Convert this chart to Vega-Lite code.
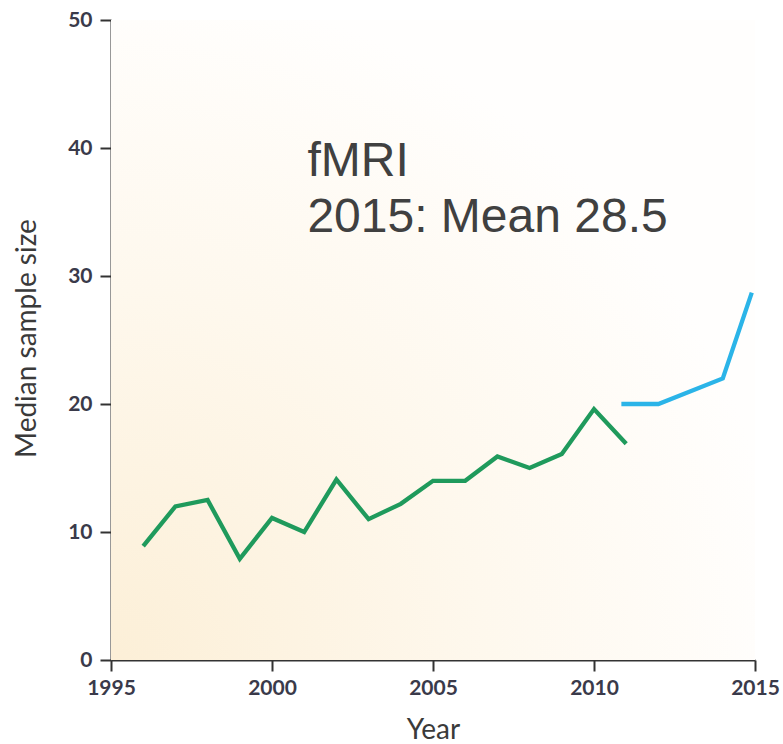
{
  "$schema": "https://vega.github.io/schema/vega-lite/v6.json",
  "width": 644,
  "height": 640,
  "autosize": {"type": "none"},
  "padding": {"left": 111, "top": 20, "right": 28, "bottom": 84},
  "background": "white",
  "config": {"view": {"stroke": null}},
  "datasets": {
    "bg": [{"x0": 1995, "x1": 2015, "y0": 0, "y1": 50}],
    "series": [
      {"year": 1996, "value": 8.9, "group": "before"},
      {"year": 1997, "value": 12.0, "group": "before"},
      {"year": 1998, "value": 12.5, "group": "before"},
      {"year": 1999, "value": 7.9, "group": "before"},
      {"year": 2000, "value": 11.1, "group": "before"},
      {"year": 2001, "value": 10.0, "group": "before"},
      {"year": 2002, "value": 14.1, "group": "before"},
      {"year": 2003, "value": 11.0, "group": "before"},
      {"year": 2004, "value": 12.2, "group": "before"},
      {"year": 2005, "value": 14.0, "group": "before"},
      {"year": 2006, "value": 14.0, "group": "before"},
      {"year": 2007, "value": 15.9, "group": "before"},
      {"year": 2008, "value": 15.0, "group": "before"},
      {"year": 2009, "value": 16.1, "group": "before"},
      {"year": 2010, "value": 19.6, "group": "before"},
      {"year": 2011, "value": 16.9, "group": "before"},
      {"year": 2010.85, "value": 20.0, "group": "after"},
      {"year": 2012, "value": 20.0, "group": "after"},
      {"year": 2014, "value": 22.0, "group": "after"},
      {"year": 2014.9, "value": 28.7, "group": "after"}
    ],
    "note": [{"x": 2001.1, "y": 37.8, "label": "fMRI\n2015: Mean 28.5"}]
  },
  "layer": [
    {
      "data": {"name": "bg"},
      "mark": {
        "type": "rect",
        "fill": {
          "gradient": "radial",
          "x1": 0, "y1": 1, "x2": 0, "y2": 1, "r1": 0, "r2": 1.05,
          "stops": [
            {"offset": 0, "color": "#fcefd7"},
            {"offset": 0.55, "color": "#fef8ed"},
            {"offset": 1, "color": "#fffefd"}
          ]
        }
      },
      "encoding": {
        "x": {"field": "x0", "type": "quantitative", "scale": {"domain": [1995, 2015], "nice": false, "zero": false},
          "axis": {"values": [1995, 2000, 2005, 2010, 2015], "format": "d", "title": "Year", "grid": false,
            "domainColor": "#333333", "domainWidth": 2, "tickColor": "#333333", "tickWidth": 2, "tickSize": 11,
            "labelFont": "Lato", "labelFontWeight": "bold", "labelFontSize": 21, "labelColor": "#3a3a4a", "labelPadding": 6,
            "labelFlush": false, "labelOverlap": false,
            "titleFont": "Lato", "titleFontWeight": "normal", "titleFontSize": 28, "titleColor": "#3a3a3a",
            "titleY": 78, "titleBaseline": "alphabetic"}},
        "x2": {"field": "x1"},
        "y": {"field": "y0", "type": "quantitative", "scale": {"domain": [0, 50], "nice": false},
          "axis": {"values": [0, 10, 20, 30, 40, 50], "title": "Median sample size", "grid": false,
            "domainColor": "#333333", "domainWidth": 2, "tickColor": "#333333", "tickWidth": 2, "tickSize": 11,
            "labelFont": "Lato", "labelFontWeight": "bold", "labelFontSize": 21, "labelColor": "#3a3a4a", "labelPadding": 8,
            "labelFlush": false, "labelOverlap": false,
            "titleFont": "Lato", "titleFontWeight": "normal", "titleFontSize": 28, "titleColor": "#3a3a3a",
            "titleX": -84, "titleY": 318, "titleAngle": 270, "titleAlign": "center", "titleBaseline": "middle"}},
        "y2": {"field": "y1"}
      }
    },
    {
      "data": {"name": "series"},
      "mark": {"type": "line", "strokeWidth": 4.3, "strokeJoin": "miter"},
      "encoding": {
        "x": {"field": "year", "type": "quantitative"},
        "y": {"field": "value", "type": "quantitative"},
        "detail": {"field": "group"},
        "color": {"field": "group", "type": "nominal", "scale": {"domain": ["before", "after"], "range": ["#1f9a5c", "#2bb4e8"]}, "legend": null}
      }
    },
    {
      "data": {"name": "note"},
      "mark": {"type": "text", "font": "Liberation Sans", "fontSize": 48, "color": "#404040", "align": "left", "baseline": "alphabetic", "lineBreak": "\n", "lineHeight": 56},
      "encoding": {
        "x": {"field": "x", "type": "quantitative"},
        "y": {"field": "y", "type": "quantitative"},
        "text": {"field": "label"}
      }
    }
  ]
}
